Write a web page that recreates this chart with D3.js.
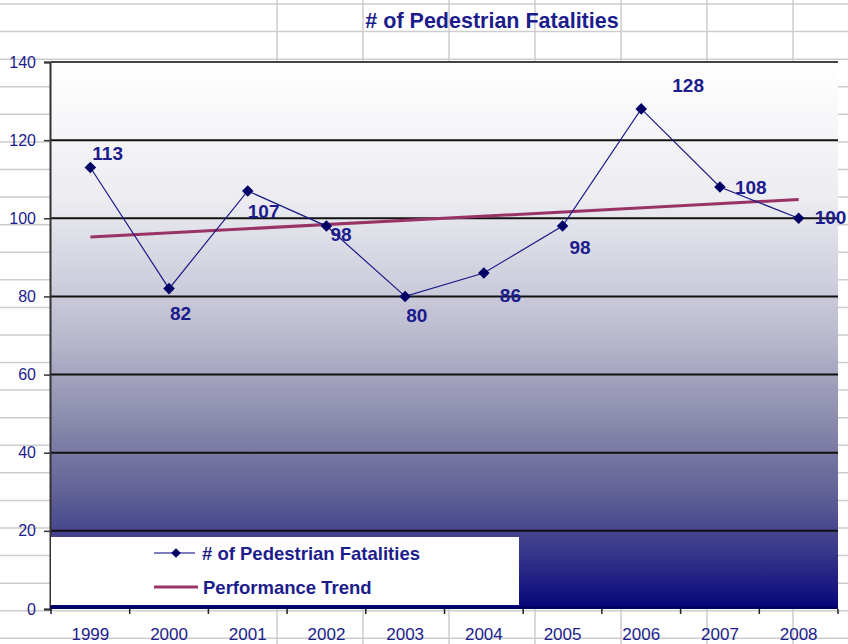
<!DOCTYPE html>
<html>
<head>
<meta charset="utf-8">
<script src="https://cdn.jsdelivr.net/npm/d3@7/dist/d3.min.js"></script>
<style>
  body { margin: 0; background: #fff; }
  text { font-family: Arial, "Liberation Sans", sans-serif; }
</style>
</head>
<body>
<svg id="chart" width="848" height="644"></svg>
<script>
const years = ["1999", "2000", "2001", "2002", "2003", "2004", "2005", "2006", "2007", "2008"];
const fatalities = [113, 82, 107, 98, 80, 86, 98, 128, 108, 100];
const trendYears = ["1999", "2008"];
const trendValues = [95.2, 104.8];
const yTicks = [0, 20, 40, 60, 80, 100, 120, 140];

// label placement relative to each marker (dragged by hand in the original)
const labelOffsets = [[2, -7], [1, 31], [0, 27], [4, 15], [1, 26], [16, 29], [7, 28], [31, -17], [15, 7], [16, 6]];

const svg = d3.select("#chart");
const navy = "#1c1c8c";

// spreadsheet cells behind the chart
const sheet = svg.append("g").attr("stroke", "#cdcdcd").attr("stroke-width", 1.5);
d3.range(4, 644, 27.58).forEach(y => {
  sheet.append("line").attr("x1", 0).attr("x2", 848).attr("y1", y).attr("y2", y);
});
d3.range(277, 848, 86).forEach(x => {
  sheet.append("line").attr("x1", x).attr("x2", x).attr("y1", 0).attr("y2", 644);
});

const x = d3.scaleBand().domain(years).range([51, 838]);
const y = d3.scaleLinear().domain([0, 140]).range([609, 62]);
const cx = d => x(d) + x.bandwidth() / 2;

const defs = svg.append("defs");
const grad = defs.append("linearGradient")
  .attr("id", "plotFill")
  .attr("x1", 0).attr("y1", 0).attr("x2", 0).attr("y2", 1);
[[0, "#ffffff"], [0.25, "#ececf1"], [0.49, "#bdbdd1"], [0.655, "#8b8bad"],
 [0.8, "#5d5d95"], [0.91, "#31318a"], [1, "#05057a"]].forEach(s => {
  grad.append("stop").attr("offset", s[0]).attr("stop-color", s[1]);
});

svg.append("rect")
  .attr("x", 51).attr("y", y(140))
  .attr("width", 838 - 51).attr("height", y(0) - y(140))
  .attr("fill", "url(#plotFill)");

// horizontal gridlines
svg.append("g")
  .selectAll("line")
  .data(yTicks.filter(d => d > 0))
  .join("line")
  .attr("x1", 51).attr("x2", 838)
  .attr("y1", d => y(d)).attr("y2", d => y(d))
  .attr("stroke", d => d === 140 ? "#444" : "#111")
  .attr("stroke-width", 2);

// y axis
const yAxis = svg.append("g")
  .attr("transform", "translate(50,0)")
  .call(d3.axisLeft(y).tickValues(yTicks).tickSize(6).tickPadding(8));
yAxis.select(".domain").attr("stroke", "#333").attr("stroke-width", 2);
yAxis.selectAll(".tick line").attr("stroke", "#333").attr("stroke-width", 1.5);
yAxis.selectAll(".tick text")
  .attr("fill", navy)
  .style("font-size", "16px");

// x axis
const xAxis = svg.append("g")
  .attr("transform", `translate(0,${y(0)})`)
  .call(d3.axisBottom(x).tickSize(0).tickPadding(19));
xAxis.select(".domain").remove();
xAxis.selectAll(".tick text")
  .attr("fill", navy)
  .style("font-size", "17px");
svg.append("g")
  .selectAll("line")
  .data(years.concat(["end"]))
  .join("line")
  .attr("x1", (d, i) => 51 + i * x.bandwidth())
  .attr("x2", (d, i) => 51 + i * x.bandwidth())
  .attr("y1", y(0)).attr("y2", y(0) + 5)
  .attr("stroke", "#222").attr("stroke-width", 1.5);

// legend box
const legend = svg.append("g");
legend.append("rect")
  .attr("x", 51).attr("y", 537).attr("width", 468).attr("height", 68)
  .attr("fill", "#fff");
legend.append("line")
  .attr("x1", 154).attr("x2", 195).attr("y1", 553).attr("y2", 553)
  .attr("stroke", "#000080").attr("stroke-width", 1.2);
legend.append("path")
  .attr("d", d3.symbol(d3.symbolDiamond2, 60)())
  .attr("transform", "translate(176,553)")
  .attr("fill", "#000066");
legend.append("text")
  .attr("x", 202).attr("y", 560)
  .attr("fill", navy)
  .style("font-size", "18.5px").style("font-weight", "bold")
  .text("# of Pedestrian Fatalities");
legend.append("line")
  .attr("x1", 154).attr("x2", 198).attr("y1", 587).attr("y2", 587)
  .attr("stroke", "#993366").attr("stroke-width", 3);
legend.append("text")
  .attr("x", 203).attr("y", 594)
  .attr("fill", navy)
  .style("font-size", "18.5px").style("font-weight", "bold")
  .text("Performance Trend");

// x axis line (navy)
svg.append("line")
  .attr("x1", 50).attr("x2", 838)
  .attr("y1", y(0) - 1.5).attr("y2", y(0) - 1.5)
  .attr("stroke", "#000066").attr("stroke-width", 3);

// trend line
svg.append("line")
  .attr("x1", cx(trendYears[0])).attr("y1", y(trendValues[0]))
  .attr("x2", cx(trendYears[1])).attr("y2", y(trendValues[1]))
  .attr("stroke", "#993366").attr("stroke-width", 3);

// series
const points = years.map((yr, i) => ({ year: yr, value: fatalities[i], off: labelOffsets[i] }));

svg.append("path")
  .datum(points)
  .attr("fill", "none")
  .attr("stroke", "#1a1a88")
  .attr("stroke-width", 1.2)
  .attr("d", d3.line().x(d => cx(d.year)).y(d => y(d.value)));

svg.selectAll("path.marker")
  .data(points)
  .join("path")
  .attr("class", "marker")
  .attr("d", d3.symbol(d3.symbolDiamond2, 85)())
  .attr("transform", d => `translate(${cx(d.year)},${y(d.value)})`)
  .attr("fill", "#000066");

svg.selectAll("text.value")
  .data(points)
  .join("text")
  .attr("class", "value")
  .attr("x", d => cx(d.year) + d.off[0])
  .attr("y", d => y(d.value) + d.off[1])
  .attr("fill", navy)
  .style("font-size", "19px").style("font-weight", "bold")
  .text(d => d.value);

// title
svg.append("text")
  .attr("x", 492).attr("y", 28)
  .attr("text-anchor", "middle")
  .attr("fill", navy)
  .style("font-size", "21.5px").style("font-weight", "bold")
  .text("# of Pedestrian Fatalities");
</script>
</body>
</html>
